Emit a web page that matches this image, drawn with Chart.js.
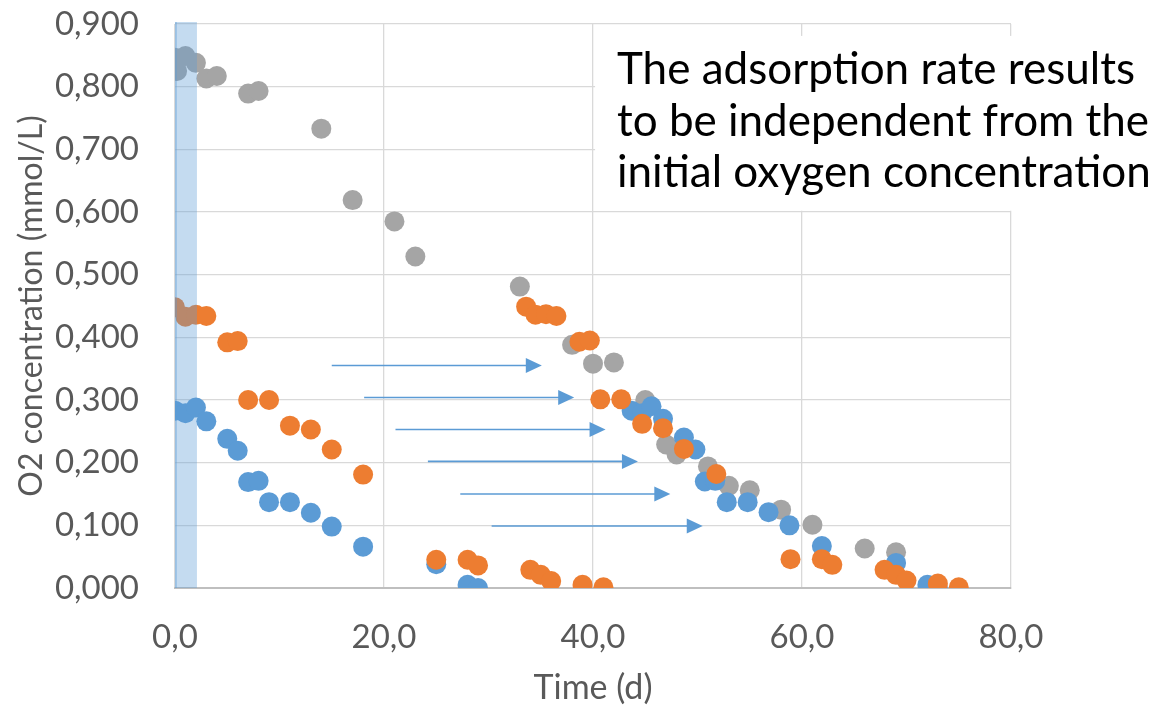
<!DOCTYPE html>
<html lang="en">
<head>
  <meta charset="UTF-8">
  <title>O2 concentration vs time</title>
  <script src="https://cdn.jsdelivr.net/npm/chart.js"></script>
  <style>
    body {
      margin: 0;
      background: white;
    }
    canvas {
      display: block;
    }
  </style>
</head>
<body>

<canvas id="o2Chart" width="1176" height="708"></canvas>

<script>
  // grey series (highest initial concentration)
  const greyX = [0, 1, 2, 0.2, 3, 4, 7, 8, 14, 17, 21, 23, 33, 38, 40, 42, 45, 47, 48, 51, 53, 55, 58, 61, 66, 69];
  const greyY = [0.846, 0.849, 0.838, 0.825, 0.813, 0.817, 0.789, 0.793, 0.733, 0.619, 0.585, 0.529, 0.481, 0.388, 0.358, 0.360, 0.300, 0.229, 0.213, 0.194, 0.163, 0.156, 0.125, 0.101, 0.063, 0.057];

  // orange series, measured and shifted along the time axis
  const orangeX = [0, 1, 2, 3, 5, 6, 7, 9, 11, 13, 15, 18, 25, 28, 29, 34, 35, 36, 39, 41];
  const orangeY = [0.448, 0.433, 0.436, 0.434, 0.392, 0.394, 0.300, 0.300, 0.259, 0.253, 0.221, 0.181, 0.045, 0.045, 0.036, 0.029, 0.021, 0.011, 0.005, 0.001];
  const orangeShiftX = [33.6, 34.5, 35.5, 36.5, 38.7, 39.7, 40.7, 42.7, 44.7, 46.7, 48.7, 51.8, 58.9, 61.9, 62.9, 67.9, 69.0, 70.0, 73.0, 75.0];
  const orangeShiftY = [0.449, 0.436, 0.437, 0.434, 0.393, 0.395, 0.301, 0.301, 0.262, 0.255, 0.222, 0.182, 0.046, 0.046, 0.037, 0.029, 0.021, 0.012, 0.007, 0.001];

  // blue series, measured and shifted
  const blueX = [0, 1, 2, 3, 5, 6, 7, 8, 9, 11, 13, 15, 18, 25, 28, 29];
  const blueY = [0.283, 0.279, 0.288, 0.266, 0.238, 0.219, 0.169, 0.171, 0.137, 0.137, 0.120, 0.098, 0.066, 0.038, 0.005, 0.000];
  const blueShiftX = [43.7, 44.7, 45.6, 46.7, 48.7, 49.8, 50.7, 51.7, 52.8, 54.8, 56.8, 58.8, 61.9, 69.0, 72.0, 73.0];
  const blueShiftY = [0.283, 0.279, 0.290, 0.270, 0.240, 0.221, 0.170, 0.171, 0.137, 0.137, 0.121, 0.100, 0.067, 0.040, 0.005, 0.000];

  // arrows (time from -> to, at concentration)
  const arrowFrom = [15.0, 18.1, 21.1, 24.2, 27.3, 30.3];
  const arrowTo = [35.1, 38.2, 41.2, 44.3, 47.4, 50.5];
  const arrowY = [0.355, 0.304, 0.253, 0.202, 0.150, 0.099];

  // shaded band at the start
  const bandFrom = 0;
  const bandTo = 2.1;

  const noteLines = [
    "The adsorption rate results",
    "to be independent from the",
    "initial oxygen concentration"
  ];

  const FONT = "Lato, 'Open Sans', sans-serif";
  const GREY = "#A5A5A5";
  const ORANGE = "#ED7D31";
  const BLUE = "#5B9BD5";

  function pts(xs, ys) {
    return xs.map((x, i) => ({ x: x, y: ys[i] }));
  }

  function series(xs, ys, color) {
    return {
      data: pts(xs, ys),
      backgroundColor: color,
      borderColor: color,
      pointRadius: 10,
      pointHoverRadius: 10,
      pointBorderWidth: 0
    };
  }

  // band, arrows and the text box on top of the points
  const overlay = {
    id: "overlay",
    afterDatasetsDraw(chart) {
      const ctx = chart.ctx;
      const xs = chart.scales.x;
      const ys = chart.scales.y;

      // band
      const bx0 = xs.getPixelForValue(bandFrom);
      const bx1 = xs.getPixelForValue(bandTo);
      const by0 = ys.getPixelForValue(0.9) - 2;
      const by1 = ys.getPixelForValue(0);
      ctx.save();
      ctx.fillStyle = "rgba(91,155,213,0.36)";
      ctx.fillRect(bx0, by0, bx1 - bx0, by1 - by0);
      ctx.fillStyle = "rgba(91,155,213,0.35)";
      ctx.fillRect(bx0, by0, 2, by1 - by0);

      // arrows
      ctx.strokeStyle = BLUE;
      ctx.fillStyle = BLUE;
      ctx.lineWidth = 1.6;
      for (let i = 0; i < arrowY.length; i++) {
        const x0 = xs.getPixelForValue(arrowFrom[i]);
        const x1 = xs.getPixelForValue(arrowTo[i]);
        const y = ys.getPixelForValue(arrowY[i]);
        ctx.beginPath();
        ctx.moveTo(x0, y);
        ctx.lineTo(x1 - 14, y);
        ctx.stroke();
        ctx.beginPath();
        ctx.moveTo(x1, y);
        ctx.lineTo(x1 - 16, y - 7.5);
        ctx.lineTo(x1 - 16, y + 7.5);
        ctx.closePath();
        ctx.fill();
      }

      // text box
      const tx0 = xs.getPixelForValue(40.2);
      const ty0 = ys.getPixelForValue(0.881);
      const ty1 = ys.getPixelForValue(0.602);
      ctx.fillStyle = "white";
      ctx.fillRect(tx0, ty0, chart.width - tx0, ty1 - ty0);

      ctx.fillStyle = "#000000";
      ctx.font = "44px " + FONT;
      ctx.textAlign = "left";
      ctx.textBaseline = "alphabetic";
      for (let i = 0; i < noteLines.length; i++) {
        ctx.fillText(noteLines[i], 617, 84 + i * 51.5);
      }
      ctx.restore();
    }
  };

  const chart = new Chart(document.getElementById("o2Chart"), {
    type: "scatter",
    data: {
      datasets: [
        series(orangeShiftX, orangeShiftY, ORANGE),
        series(orangeX, orangeY, ORANGE),
        series(blueShiftX, blueShiftY, BLUE),
        series(blueX, blueY, BLUE),
        series(greyX, greyY, GREY)
      ]
    },
    options: {
      responsive: false,
      animation: false,
      layout: {
        padding: { left: 0, right: 165, top: 24, bottom: 0 }
      },
      plugins: {
        legend: { display: false },
        tooltip: { enabled: false }
      },
      scales: {
        x: {
          type: "linear",
          min: 0,
          max: 80,
          afterFit: (s) => {
            s.height = 120;
            s.paddingLeft = 0;
            s.paddingRight = 0;
          },
          ticks: {
            stepSize: 20,
            padding: 30,
            color: "#595959",
            font: { family: FONT, size: 33 },
            callback: (v) => v.toFixed(1).replace(".", ",")
          },
          grid: { color: "#D9D9D9", lineWidth: 1.3, drawTicks: false },
          border: { color: "#BFBFBF", width: 2 },
          title: {
            display: true,
            text: "Time (d)",
            color: "#595959",
            font: { family: FONT, size: 34 },
            padding: { top: 0, bottom: 0 }
          }
        },
        y: {
          type: "linear",
          min: 0,
          max: 0.9,
          afterFit: (s) => {
            s.width = 175;
            s.paddingTop = 0;
            s.paddingBottom = 0;
          },
          ticks: {
            stepSize: 0.1,
            padding: 36,
            color: "#595959",
            font: { family: FONT, size: 33 },
            callback: (v) => v.toFixed(3).replace(".", ",")
          },
          grid: { color: "#D9D9D9", lineWidth: 1.3, drawTicks: false },
          border: { display: false },
          title: {
            display: true,
            text: "O2 concentration (mmol/L)",
            color: "#595959",
            font: { family: FONT, size: 32 },
            padding: { top: 12, bottom: 0 }
          }
        }
      }
    },
    plugins: [overlay]
  });
</script>

</body>
</html>
